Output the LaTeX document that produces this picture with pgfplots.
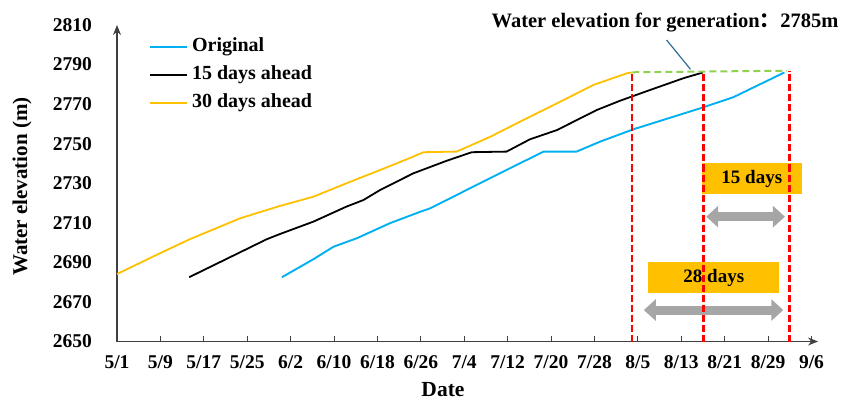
\documentclass[border=0pt]{standalone}
\usepackage{pgfplots}
\pgfplotsset{compat=1.18}
\usepackage{fontspec}
\setmainfont{Liberation Serif}
\newfontfamily\cjk{Noto Sans CJK SC}
\usetikzlibrary{arrows.meta}
\definecolor{cblue}{HTML}{00B0F0}
\definecolor{cyel}{HTML}{FFC000}
\definecolor{cred}{HTML}{FF0000}
\definecolor{cgreen}{HTML}{92D050}
\definecolor{cgray}{HTML}{A6A6A6}
\definecolor{cax}{HTML}{404040}
\definecolor{clead}{HTML}{2E6E96}
\begin{document}
\begin{tikzpicture}[x=1bp,y=1bp]
\useasboundingbox (0,0) rectangle (845,403);
\begin{axis}[
  at={(117bp,61.5bp)}, anchor=south west,
  scale only axis, width=701bp, height=316.5bp,
  xmin=0, xmax=129.2, ymin=2650, ymax=2810,
  clip=false,
  axis lines=left,
  axis line style={cax, line width=1.3bp, -{Stealth[length=10bp,width=8bp]}},
  xtick={0,8,...,128},
  xticklabels={5/1,5/9,5/17,5/25,6/2,6/10,6/18,6/26,7/4,7/12,7/20,7/28,8/5,8/13,8/21,8/29,9/6},
  ytick={2650,2670,...,2810},
  tick align=inside,
  major tick length=6bp,
  xtick style={cax, line width=1bp},
  ytick style={draw=none},
  /pgf/number format/1000 sep={},
  /pgf/number format/assume math mode=true,
  yticklabel style={font=\fontsize{19.5bp}{19.5bp}\selectfont\bfseries, inner sep=0pt, anchor=east, xshift=-25bp},
  xticklabel style={font=\fontsize{19.5bp}{19.5bp}\selectfont\bfseries, inner sep=0pt, anchor=north, yshift=-13.5bp},
  xlabel={Date},
  ylabel={Water elevation (m)},
  every axis x label/.style={at={(axis description cs:0.465,-0.1530)}, anchor=center},
  every axis y label/.style={at={(axis description cs:-0.1355,0.4897)}, anchor=center, rotate=90},
  xlabel style={font=\fontsize{21.5bp}{21.5bp}\selectfont\bfseries, inner sep=0pt},
  ylabel style={font=\fontsize{21bp}{21bp}\selectfont\bfseries, inner sep=0pt},
  legend style={at={(axis description cs:0.0456,0.9653)}, anchor=north west, draw=none, fill=none, inner sep=0pt, row sep=7.3bp,
    font=\fontsize{20bp}{20bp}\selectfont\bfseries,
    nodes={inner xsep=4bp, inner ysep=0pt, text height=15bp, text depth=6bp}},
  legend cell align=left,
  legend image code/.code={\draw[#1] (0bp,0bp) -- (37bp,0bp);},
]
% Original
\addplot[cblue, line width=1.9bp] coordinates {
(30.4,2682.5) (36.2,2691.6) (39.9,2697.9) (44.2,2702.2) (50.3,2709.8) (55.9,2715.6)
(57.7,2717.3) (61.4,2722.4) (66.9,2730.0) (71.8,2736.7) (78.6,2746.0) (84.7,2746.0)
(89.0,2751.0) (95.2,2757.3) (107.5,2767.9) (113.6,2773.5) (123.0,2786.0)};
\addlegendentry{Original}
% 15 days ahead
\addplot[black, line width=1.8bp] coordinates {
(13.3,2682.5) (27.6,2701.7) (30.0,2704.3) (36.2,2710.6) (42.3,2718.2) (45.4,2721.5)
(48.5,2726.6) (54.6,2735.0) (60.8,2741.4) (65.4,2745.7) (71.8,2746.0) (76.1,2752.2)
(81.1,2756.9) (88.4,2767.0) (92.7,2771.7) (98.2,2777.1) (104.4,2783.1) (108.0,2786.0)};
\addlegendentry{15 days ahead}
% 30 days ahead
\addplot[cyel, line width=1.8bp] coordinates {
(0,2684.1) (7.9,2694.6) (13.5,2701.8) (22.7,2712.3) (30.0,2718.5) (36.2,2723.2)
(42.3,2730.0) (48.5,2736.7) (53.4,2742.1) (56.5,2745.7) (62.6,2746.0) (68.8,2753.5)
(74.9,2762.0) (81.1,2770.4) (87.8,2779.7) (94.0,2785.6) (95.0,2786.0)};
\addlegendentry{30 days ahead}
% generation level
\addplot[cgreen, line width=2bp, dash pattern=on 7bp off 4bp, forget plot] coordinates {(95,2786.1) (123.5,2786.9)};
% boxes and arrows
\fill[cyel] (axis cs:107.8,2724.4) rectangle (axis cs:126.2,2740.1);
\node[font=\fontsize{19bp}{19bp}\selectfont\bfseries] at (axis cs:117,2732.2) {15 days};
\draw[cgray, line width=9bp, {Triangle[width=21bp,length=12bp]}-{Triangle[width=21bp,length=12bp]}] (axis cs:108.6,2713.1) -- (axis cs:123.1,2713.1);
\fill[cyel] (axis cs:97.9,2674.4) rectangle (axis cs:122.1,2690.0);
\node[font=\fontsize{19bp}{19bp}\selectfont\bfseries] at (axis cs:110,2682.2) {28 days};
\draw[cgray, line width=9bp, {Triangle[width=21bp,length=12bp]}-{Triangle[width=21bp,length=12bp]}] (axis cs:97.1,2665.9) -- (axis cs:122.8,2665.9);
% red verticals
\addplot[cred, line width=2.7bp, dash pattern=on 7bp off 3bp, forget plot] coordinates {(94.9,2650) (94.9,2786.1)};
\addplot[cred, line width=2.7bp, dash pattern=on 7bp off 3bp, forget plot] coordinates {(108.1,2650) (108.1,2786.4)};
\addplot[cred, line width=2.7bp, dash pattern=on 7bp off 3bp, forget plot] coordinates {(123.9,2650) (123.9,2786.9)};
% annotation
\draw[clead, line width=1.2bp] (axis cs:101.3,2802.4) -- (axis cs:105.7,2787.6);
\node[anchor=base, inner sep=0pt, font=\fontsize{20.5bp}{20.5bp}\selectfont\bfseries] at (axis cs:101,2808.5) {Water elevation for generation{\cjk ：}2785m};
\end{axis}
\end{tikzpicture}
\end{document}
